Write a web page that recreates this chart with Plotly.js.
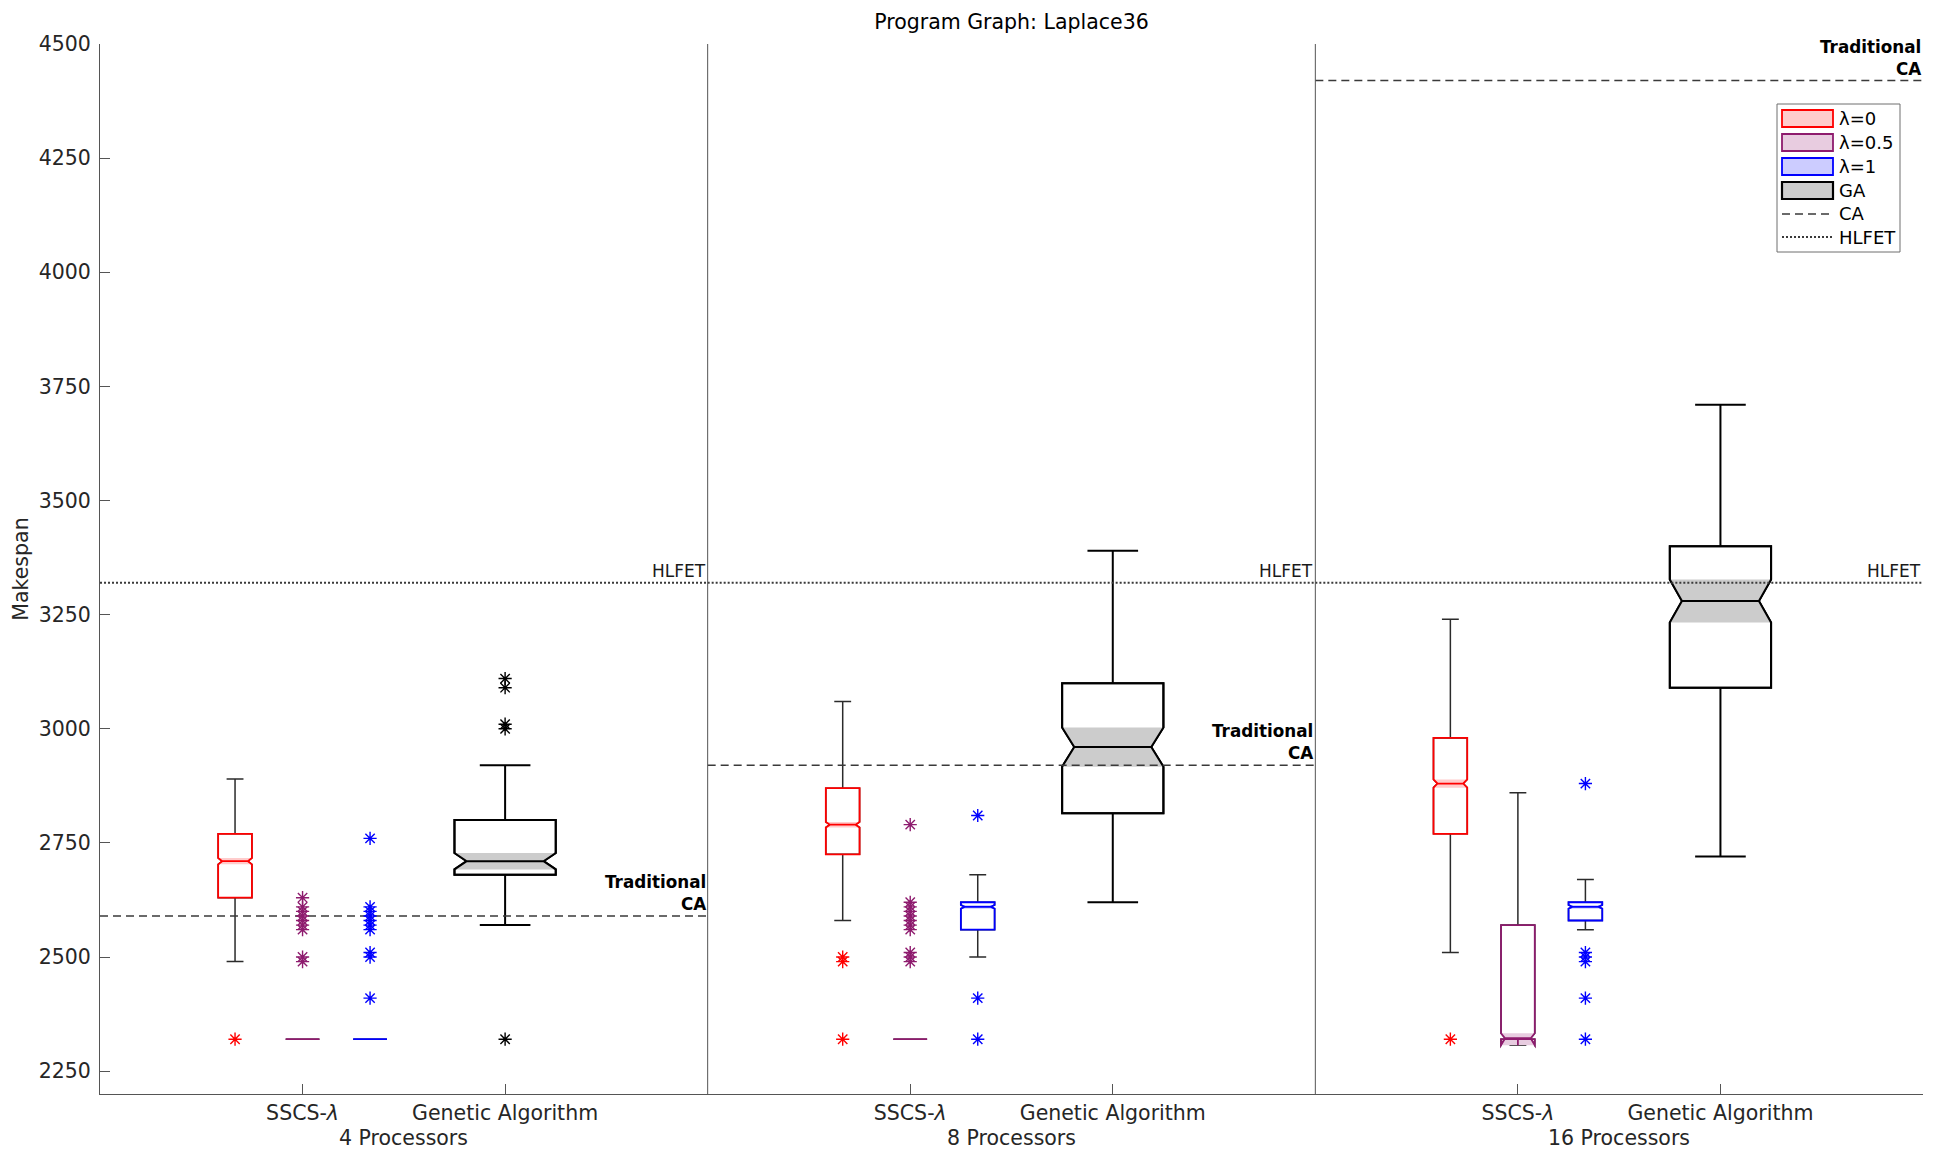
<!DOCTYPE html>
<html>
<head>
<meta charset="utf-8">
<script src="https://cdn.plot.ly/plotly-3.0.1.min.js"></script>
<style>
  html, body { margin: 0; padding: 0; background: #ffffff; }
  #chart { width: 1944px; height: 1161px; }
</style>
</head>
<body>
<div id="chart"></div>
<script>
// ---------------- DATA ----------------
const chartTitle = 'Program Graph: Laplace36';
const panelLabels = ['4 Processors', '8 Processors', '16 Processors'];
const categoryLabels = ['SSCS-<i>λ</i>', 'Genetic Algorithm'];
const seriesNames = ['λ=0', 'λ=0.5', 'λ=1', 'GA'];

// λ = 0 (per panel: 4, 8, 16 processors)
const l0_q1    = [2630, 2725, 2770];
const l0_med   = [2710, 2790, 2880];
const l0_q3    = [2770, 2870, 2980];
const l0_lo    = [2490, 2580, 2510];
const l0_hi    = [2890, 3060, 3240];
const l0_notch = [7, 6, 9];
const l0_out   = [[2320], [2320, 2490, 2500], [2320]];

// λ = 0.5
const l05_q1    = [2320, 2320, 2320];
const l05_med   = [2320, 2320, 2320];
const l05_q3    = [2320, 2320, 2570];
const l05_lo    = [2320, 2320, 2320];
const l05_hi    = [2320, 2320, 2860];
const l05_notch = [0, 0, 13];
const l05_out   = [
  [2630, 2610, 2600, 2590, 2580, 2570, 2560, 2500, 2490],
  [2790, 2620, 2610, 2600, 2590, 2580, 2570, 2560, 2510, 2500, 2490],
  []
];

// λ = 1
const l1_q1    = [2320, 2560, 2580];
const l1_med   = [2320, 2610, 2610];
const l1_q3    = [2320, 2620, 2620];
const l1_lo    = [2320, 2500, 2560];
const l1_hi    = [2320, 2680, 2670];
const l1_notch = [0, 4, 4];
const l1_out   = [
  [2760, 2610, 2600, 2590, 2580, 2570, 2560, 2510, 2500, 2410],
  [2810, 2410, 2320],
  [2880, 2510, 2500, 2490, 2410, 2320]
];

// Genetic Algorithm
const ga_q1    = [2680, 2815, 3090];
const ga_med   = [2710, 2960, 3280];
const ga_q3    = [2800, 3100, 3400];
const ga_lo    = [2570, 2620, 2720];
const ga_hi    = [2920, 3390, 3710];
const ga_notch = [18, 43, 47];
const ga_out   = [[3110, 3090, 3010, 3000, 2320], [], []];

// Reference lines (per panel)
const caValues    = [2590, 2920, 4420];
const hlfetValues = [3320, 3320, 3320];

// ---------------- STYLE / LAYOUT HELPERS ----------------
const PANEL_W = 9;                 // x-units per panel
const slotOffset = [2, 3, 4, 6];   // λ=0, λ=0.5, λ=1, GA within panel
const boxWidths = [0.5, 0.5, 0.5, 1.5];
const lineColors = ['#ff0000', '#8e1b6e', '#0000ff', '#000000'];
const fillColors = ['#ffcccc', '#e8cce0', '#ccccff', '#cccccc'];
const whiskerColor = '#2b2b2b';
const refColor = '#3a3a3a';
const FONT = 'DejaVu Sans, Noto Sans, sans-serif';

const series = [
  {q1: l0_q1, med: l0_med, q3: l0_q3, lo: l0_lo, hi: l0_hi, notch: l0_notch, out: l0_out},
  {q1: l05_q1, med: l05_med, q3: l05_q3, lo: l05_lo, hi: l05_hi, notch: l05_notch, out: l05_out},
  {q1: l1_q1, med: l1_med, q3: l1_q3, lo: l1_lo, hi: l1_hi, notch: l1_notch, out: l1_out},
  {q1: ga_q1, med: ga_med, q3: ga_q3, lo: ga_lo, hi: ga_hi, notch: ga_notch, out: ga_out}
];

const nP = panelLabels.length;
const traces = [];
const boxCommon = {
  type: 'box', orientation: 'v', notched: true, notchwidth: 0.12,
  boxpoints: false, hoverinfo: 'skip', showlegend: false
};

series.forEach((s, si) => {
  const pos = panelLabels.map((_, p) => p * PANEL_W + slotOffset[si]);
  const isGA = si === 3;
  // A: whiskers (and base outline)
  traces.push(Object.assign({}, boxCommon, {
    x: pos, q1: s.q1, median: s.med, q3: s.q3,
    lowerfence: s.lo, upperfence: s.hi, notchspan: s.notch,
    width: boxWidths[si], whiskerwidth: 0.5,
    line: {color: isGA ? '#000000' : whiskerColor, width: isGA ? 2 : 1.5},
    fillcolor: 'rgba(0,0,0,0)'
  }));
  // C: shaded notch region
  const cq1 = s.med.map((m, i) => m - s.notch[i]);
  const cq3 = s.med.map((m, i) => m + s.notch[i]);
  traces.push(Object.assign({}, boxCommon, {
    x: pos, q1: cq1, median: s.med, q3: cq3,
    lowerfence: cq1, upperfence: cq3, notchspan: s.notch,
    width: boxWidths[si], whiskerwidth: 0,
    line: {color: fillColors[si], width: 0},
    fillcolor: fillColors[si]
  }));
  // B: coloured box outline
  traces.push(Object.assign({}, boxCommon, {
    x: pos, q1: s.q1, median: s.med, q3: s.q3,
    lowerfence: s.q1, upperfence: s.q3, notchspan: s.notch,
    width: boxWidths[si], whiskerwidth: 0,
    line: {color: lineColors[si], width: isGA ? 2 : 1.8},
    fillcolor: 'rgba(0,0,0,0)'
  }));
});

// Reference lines
function segTrace(vals, dash, width) {
  const xs = [], ys = [];
  vals.forEach((v, p) => {
    xs.push(p * PANEL_W, (p + 1) * PANEL_W, null);
    ys.push(v, v, null);
  });
  return {type: 'scatter', mode: 'lines', x: xs, y: ys, connectgaps: false,
          line: {color: refColor, dash: dash, width: width},
          hoverinfo: 'skip', showlegend: false};
}
traces.push(segTrace(caValues, '8px,5px', 1.5));
traces.push(segTrace(hlfetValues, '2px,2px', 2));

// Outliers
series.forEach((s, si) => {
  const xs = [], ys = [];
  s.out.forEach((arr, p) => arr.forEach(v => { xs.push(p * PANEL_W + slotOffset[si]); ys.push(v); }));
  traces.push({type: 'scatter', mode: 'markers', x: xs, y: ys,
    marker: {symbol: 'asterisk-open', size: 11, color: lineColors[si],
             line: {color: lineColors[si], width: 1.4}},
    hoverinfo: 'skip', showlegend: false});
});

// ---------------- LAYOUT ----------------
const W = 1944, H = 1161;
const M = {l: 100, r: 21, t: 44, b: 67};
const PW = W - M.l - M.r, PH = H - M.t - M.b;
const px = xp => (xp - M.l) / PW;
const py = yp => 1 - (yp - M.t) / PH;

const shapes = [];
for (let p = 1; p < nP; p++) {
  shapes.push({type: 'line', xref: 'x', yref: 'paper', x0: p * PANEL_W, x1: p * PANEL_W,
               y0: 0, y1: 1, line: {color: '#555555', width: 1}, layer: 'above'});
}

const annotations = [];
panelLabels.forEach((lab, p) => {
  annotations.push({xref: 'x', yref: 'paper', x: p * PANEL_W + PANEL_W / 2, y: py(1138),
    text: lab, showarrow: false, xanchor: 'center', yanchor: 'middle',
    font: {size: 20.5, color: '#262626', family: FONT}});
  annotations.push({xref: 'x', yref: 'y', x: (p + 1) * PANEL_W, y: hlfetValues[p],
    text: 'HLFET', showarrow: false, xanchor: 'right', yanchor: 'bottom', xshift: 0,
    font: {size: 17, color: '#1a1a1a', family: FONT}});
  annotations.push({xref: 'x', yref: 'y', x: (p + 1) * PANEL_W, y: caValues[p],
    text: '<b>Traditional</b><br><b>CA</b>', align: 'right', showarrow: false,
    xanchor: 'right', yanchor: 'bottom', xshift: 0,
    font: {size: 16.8, color: '#000000', family: FONT}});
});

// Manual legend (top right of third panel)
const lg = {x0: 1777, x1: 1900, y0: 104, y1: 252};
shapes.push({type: 'rect', xref: 'paper', yref: 'paper',
  x0: px(lg.x0), x1: px(lg.x1), y0: py(lg.y1), y1: py(lg.y0),
  line: {color: '#6e6e6e', width: 1}, fillcolor: '#ffffff', layer: 'above'});
const rowY = [118.5, 142.5, 166.5, 190.5, 214, 237];
seriesNames.forEach((nm, i) => {
  shapes.push({type: 'rect', xref: 'paper', yref: 'paper',
    x0: px(1782), x1: px(1833), y0: py(rowY[i] + 8.5), y1: py(rowY[i] - 8.5),
    line: {color: lineColors[i], width: i === 3 ? 2.2 : 1.8}, fillcolor: fillColors[i], layer: 'above'});
});
shapes.push({type: 'line', xref: 'paper', yref: 'paper', x0: px(1782), x1: px(1833),
  y0: py(rowY[4]), y1: py(rowY[4]), line: {color: refColor, width: 1.5, dash: '8px,5px'}, layer: 'above'});
shapes.push({type: 'line', xref: 'paper', yref: 'paper', x0: px(1782), x1: px(1833),
  y0: py(rowY[5]), y1: py(rowY[5]), line: {color: refColor, width: 2, dash: '2px,2px'}, layer: 'above'});
const legendLabels = seriesNames.concat(['CA', 'HLFET']);
legendLabels.forEach((t, i) => {
  annotations.push({xref: 'paper', yref: 'paper', x: px(1837), y: py(rowY[i]),
    text: t, showarrow: false, xanchor: 'left', yanchor: 'middle',
    font: {size: 18, color: '#000000', family: FONT}});
});

const tickvals = [], ticktext = [];
panelLabels.forEach((_, p) => {
  tickvals.push(p * PANEL_W + slotOffset[1], p * PANEL_W + slotOffset[3]);
  ticktext.push(categoryLabels[0], categoryLabels[1]);
});

const layout = {
  width: W, height: H,
  margin: M,
  paper_bgcolor: '#ffffff', plot_bgcolor: '#ffffff',
  font: {family: FONT, size: 20, color: '#262626'},
  showlegend: false,
  boxmode: 'overlay',
  title: {text: chartTitle, x: 0.5, xref: 'paper', xanchor: 'center',
          y: 1 - 22 / H, yanchor: 'middle', font: {size: 20.5, color: '#000000', family: FONT}},
  xaxis: {
    range: [0, nP * PANEL_W], showgrid: false, zeroline: false,
    showline: true, linecolor: '#555555', linewidth: 1,
    ticks: 'inside', ticklen: 10, tickcolor: '#555555', tickwidth: 1,
    tickmode: 'array', tickvals: tickvals, ticktext: ticktext,
    tickfont: {size: 20.5, color: '#262626', family: FONT},
    automargin: false, fixedrange: true
  },
  yaxis: {
    range: [2200, 4500], showgrid: false, zeroline: false,
    showline: true, linecolor: '#555555', linewidth: 1,
    ticks: 'inside', ticklen: 10, tickcolor: '#555555', tickwidth: 1,
    tickmode: 'array', tickvals: [2250, 2500, 2750, 3000, 3250, 3500, 3750, 4000, 4250, 4500],
    tickfont: {size: 20.5, color: '#262626', family: FONT},
    ticklabelstandoff: 4,
    title: {text: 'Makespan', standoff: 4, font: {size: 20.5, color: '#262626', family: FONT}},
    automargin: false, fixedrange: true
  },
  shapes: shapes,
  annotations: annotations
};

Plotly.newPlot('chart', traces, layout, {staticPlot: true, displayModeBar: false});
</script>
</body>
</html>
